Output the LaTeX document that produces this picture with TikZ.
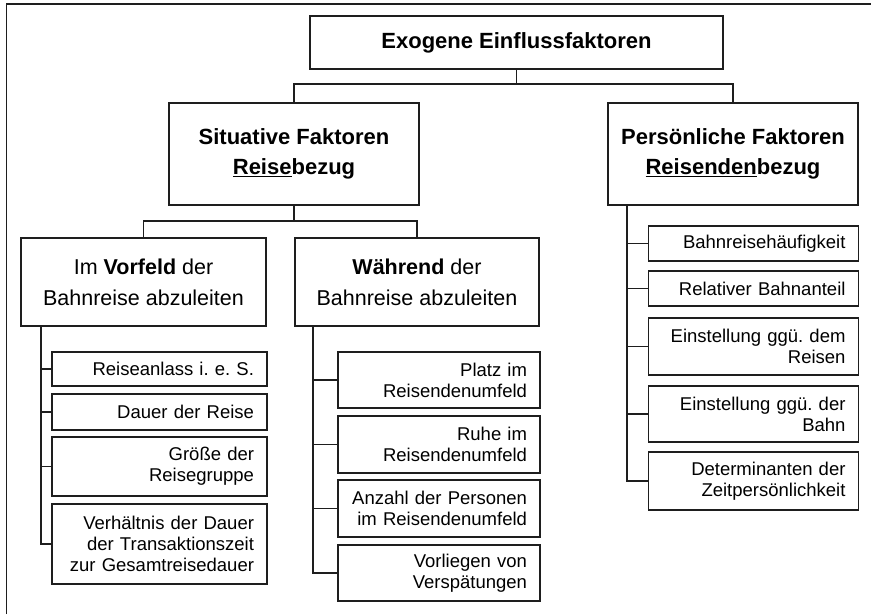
\documentclass[tikz,border=0pt]{standalone}
\usepackage{fontspec}
\setmainfont{Liberation Sans}
\frenchspacing
\definecolor{linec}{HTML}{1E1E1E}
\begin{document}
\begin{tikzpicture}[x=1pt,y=-1pt,
  box/.style={draw=linec, line width=1.6pt, inner sep=0pt, outer sep=0pt},
  hdr/.style={box, align=center, font=\fontsize{22}{30}\selectfont\bfseries},
  sub/.style={box, align=center, font=\fontsize{21.5}{31}\selectfont},
  itm/.style={box, align=right, inner xsep=13pt, font=\fontsize{18.5}{21}\selectfont},
  conn/.style={draw=linec, line width=1.6pt}]
\useasboundingbox (0,0) rectangle (871,614);
% outer frame (top and left edges)
\coordinate (fa) at (6.5,614);
\coordinate (fb) at (6.5,4);
\coordinate (fc) at (871,4);
\draw[conn] (fa) -- (fb) -- (fc);
% top
\node[hdr, minimum width=413pt, minimum height=53pt] (top) at (516.5,42.5) {Exogene Einflussfaktoren};
\node[hdr, minimum width=250pt, minimum height=102pt] (sit) at (294,154) {Situative Faktoren\\\underline{Reise}bezug};
\node[hdr, minimum width=250pt, minimum height=102pt] (per) at (733,154) {Persönliche Faktoren\\\underline{Reisenden}bezug};
\node[sub, minimum width=245pt, minimum height=88pt] (vor) at (143.5,282) {Im \textbf{Vorfeld} der\\Bahnreise abzuleiten};
\node[sub, minimum width=244pt, minimum height=88pt] (wae) at (417,282) {\textbf{Während} der\\Bahnreise abzuleiten};
% Vorfeld items
\node[itm, minimum width=215pt, text width=189pt, minimum height=34pt] (v1) at (159.5,369) {Reiseanlass i. e. S.};
\node[itm, minimum width=215pt, text width=189pt, minimum height=36pt] (v2) at (159.5,412) {Dauer der Reise};
\node[itm, minimum width=215pt, text width=189pt, minimum height=59pt] (v3) at (159.5,466.5) {Größe der\\Reisegruppe};
\node[itm, minimum width=215pt, text width=189pt, minimum height=80pt] (v4) at (159.5,544) {Verhältnis der Dauer\\der Transaktionszeit\\zur Gesamtreisedauer};
% Waehrend items
\node[itm, minimum width=202pt, text width=176pt, minimum height=56pt] (w1) at (439,380) {Platz im\\Reisendenumfeld};
\node[itm, minimum width=202pt, text width=176pt, minimum height=57pt] (w2) at (439,444.5) {Ruhe im\\Reisendenumfeld};
\node[itm, minimum width=202pt, text width=176pt, minimum height=57pt] (w3) at (439,508.5) {Anzahl der Personen\\im Reisendenumfeld};
\node[itm, minimum width=202pt, text width=176pt, minimum height=56pt] (w4) at (439,573) {Vorliegen von\\Verspätungen};
% Persoenliche items
\node[itm, minimum width=209pt, text width=184pt, minimum height=35pt] (p1) at (753.5,243.5) {Bahnreisehäufigkeit};
\node[itm, minimum width=209pt, text width=184pt, minimum height=35pt] (p2) at (753.5,288.5) {Relativer Bahnanteil};
\node[itm, minimum width=209pt, text width=184pt, minimum height=57pt] (p3) at (753.5,346.5) {Einstellung ggü. dem\\Reisen};
\node[itm, minimum width=209pt, text width=184pt, minimum height=56pt] (p4) at (753.5,414) {Einstellung ggü. der\\Bahn};
\node[itm, minimum width=209pt, text width=184pt, minimum height=58pt] (p5) at (753.5,481) {Determinanten der\\Zeitpersönlichkeit};
% connectors
\draw[conn] (top.south) -- ++(0,15) -| (sit.north);
\draw[conn] (top.south) -- ++(0,15) -| (per.north);
\draw[conn] (sit.south) -- ++(0,16) -| (vor.north);
\draw[conn] (sit.south) -- ++(0,16) -| (wae.north);
\foreach \n in {v1,v2,v3,v4}{\draw[conn] ([xshift=20pt]vor.south west) |- (\n.west);}
\foreach \n in {w1,w2,w3,w4}{\draw[conn] ([xshift=18pt]wae.south west) |- (\n.west);}
\foreach \n in {p1,p2,p3,p4,p5}{\draw[conn] ([xshift=19pt]per.south west) |- (\n.west);}
\end{tikzpicture}
\end{document}
